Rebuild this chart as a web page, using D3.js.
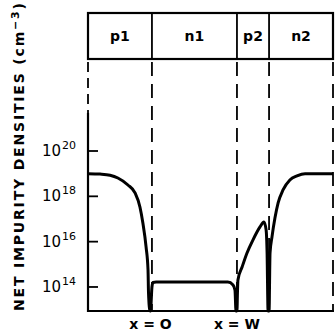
<!DOCTYPE html>
<html>
<head>
<meta charset="utf-8">
<script src="https://cdn.jsdelivr.net/npm/d3@7"></script>
<style>
html,body{margin:0;padding:0;background:#fff;}
svg{display:block;}
text{font-family:"DejaVu Sans",sans-serif;fill:#000;}
</style>
</head>
<body>
<svg id="chart" width="335" height="335"></svg>
<script>
// Regions (labels of top band) and their boundaries in depth units (0..10)
const regionNames = ["p1", "n1", "p2", "n2"];
const regionBounds = [0, 2.61, 6.08, 7.39, 10];
// Decade tick exponents
const tickExponents = [14, 16, 18, 20];
// Bottom markers
const markerLabels = ["x = O", "x = W"];
const markerPositions = [2.55, 6.08];
// Net impurity profile: depth (arbitrary units) and log10 density (cm^-3)
const depth = [0, 0.49, 0.90, 1.22, 1.63, 1.92, 2.12, 2.24, 2.37, 2.45, 2.47, 2.53,
  2.55, 2.61, 2.65, 2.78, 5.71, 5.92, 6.00, 6.04,
  6.08, 6.10, 6.12, 6.29, 6.49, 6.73, 7.02, 7.18, 7.27, 7.31, 7.35,
  7.39, 7.43, 7.51, 7.63, 7.76, 7.96, 8.24, 8.53, 8.86, 10];
const logDensity = [19.0, 18.98, 18.93, 18.81, 18.50, 18.15, 17.53, 16.82, 15.77, 14.75, 13.74, 12.94,
  12.94, 14.0, 14.2, 14.22, 14.22, 14.09, 13.86, 12.94,
  12.94, 13.74, 14.31, 14.88, 15.50, 16.07, 16.65, 16.87, 16.52, 15.50, 12.94,
  12.94, 15.50, 16.21, 17.04, 17.71, 18.28, 18.72, 18.90, 19.0, 19.0];

(function () {
const svg = d3.select("#chart");
const L = 88, R = 333, B = 311, T = 13, BB = 59;

const x = d3.scaleLinear().domain([0, 10]).range([L, R]);
const y = d3.scaleLog().domain([Math.pow(10, 12.94), 1e20]).range([B, 151]);

// top band box
const band = svg.append("g");
band.append("rect").attr("x", L).attr("y", T).attr("width", R - L).attr("height", BB - T)
  .attr("fill", "none").attr("stroke", "#000").attr("stroke-width", 2.2);
regionBounds.slice(1, -1).forEach(b => {
  band.append("line").attr("x1", x(b)).attr("x2", x(b)).attr("y1", T).attr("y2", BB)
    .attr("stroke", "#000").attr("stroke-width", 1.8);
});
regionNames.forEach((n, i) => {
  band.append("text").attr("x", (x(regionBounds[i]) + x(regionBounds[i + 1])) / 2).attr("y", 41)
    .attr("text-anchor", "middle").attr("font-size", 14).attr("font-weight", "bold").text(n);
});

// dashed boundary lines below the band
regionBounds.slice(1).forEach(b => {
  svg.append("line").attr("x1", x(b)).attr("x2", x(b)).attr("y1", BB + 3).attr("y2", B)
    .attr("stroke", "#000").attr("stroke-width", 1.8).attr("stroke-dasharray", "14,8");
});
// left axis: dashed near the band, solid below
svg.append("line").attr("x1", L).attr("x2", L).attr("y1", BB + 3).attr("y2", 113)
  .attr("stroke", "#000").attr("stroke-width", 1.8).attr("stroke-dasharray", "10,6");
svg.append("line").attr("x1", L).attr("x2", L).attr("y1", 113).attr("y2", B + 1)
  .attr("stroke", "#000").attr("stroke-width", 2.2);
// bottom axis
svg.append("line").attr("x1", L - 1).attr("x2", R + 1).attr("y1", B).attr("y2", B)
  .attr("stroke", "#000").attr("stroke-width", 2.2);

// y ticks
const ticks = svg.append("g");
tickExponents.forEach(e => {
  const ty = y(Math.pow(10, e));
  ticks.append("line").attr("x1", L).attr("x2", L + 10).attr("y1", ty).attr("y2", ty)
    .attr("stroke", "#000").attr("stroke-width", 1.8);
  const t = ticks.append("text").attr("x", 42).attr("y", ty + 5).attr("font-size", 15);
  t.append("tspan").text("10");
  t.append("tspan").attr("dy", -7).attr("font-size", 11).attr("dx", 1).text(String(e));
});

// y title
const yt = svg.append("text").attr("transform", "translate(24,157) rotate(-90)")
  .attr("text-anchor", "middle").attr("font-size", 14).attr("font-weight", "bold")
  .attr("textLength", 308).attr("lengthAdjust", "spacing");
yt.append("tspan").text("NET IMPURITY DENSITIES (cm");
yt.append("tspan").attr("dy", -5).attr("font-size", 11).text("\u22123");
yt.append("tspan").attr("dy", 5).text(")");

// bottom marker labels
markerLabels.forEach((m, i) => {
  svg.append("text").attr("x", x(markerPositions[i])).attr("y", 329).attr("text-anchor", "middle")
    .attr("font-size", 14).attr("font-weight", "bold").text(m);
});

// profile curve
const pts = depth.map((d, i) => [d, logDensity[i]]);
const line = d3.line().x(d => x(d[0])).y(d => y(Math.pow(10, d[1]))).curve(d3.curveMonotoneX);
svg.append("path").datum(pts).attr("d", line).attr("fill", "none").attr("stroke", "#000")
  .attr("stroke-width", 3).attr("stroke-linejoin", "round");
})();
</script>
</body>
</html>
